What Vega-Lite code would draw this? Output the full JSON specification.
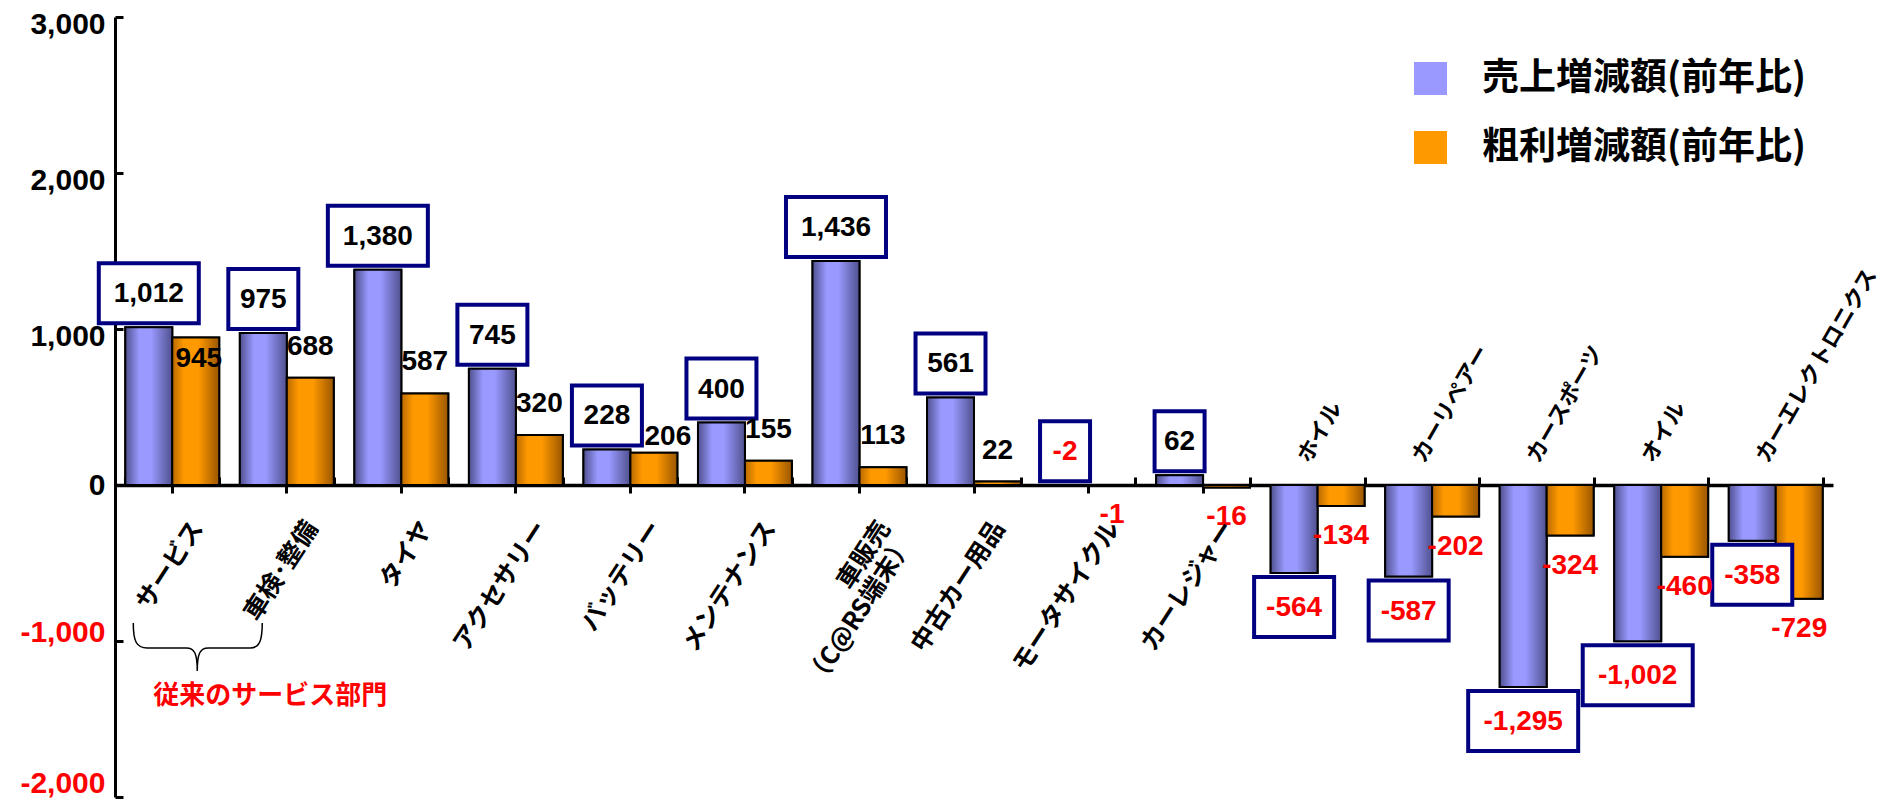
{
  "$schema": "https://vega.github.io/schema/vega-lite/v6.json",
  "width": 1718,
  "height": 780,
  "autosize": {"type": "none"},
  "padding": {"left": 115, "top": 17, "right": 53, "bottom": 4},
  "background": "white",
  "config": {
    "view": {"stroke": null},
    "font": "Liberation Sans",
    "locale": {"number": {"decimal": ".", "thousands": ",", "grouping": [3], "currency": ["$", ""], "minus": "-"}}
  },
  "data": {
    "values": [
      {"cat": "サービス", "series": "売上増減額(前年比)", "value": 1012},
      {"cat": "サービス", "series": "粗利増減額(前年比)", "value": 945},
      {"cat": "車検･整備", "series": "売上増減額(前年比)", "value": 975},
      {"cat": "車検･整備", "series": "粗利増減額(前年比)", "value": 688},
      {"cat": "タイヤ", "series": "売上増減額(前年比)", "value": 1380},
      {"cat": "タイヤ", "series": "粗利増減額(前年比)", "value": 587},
      {"cat": "アクセサリー", "series": "売上増減額(前年比)", "value": 745},
      {"cat": "アクセサリー", "series": "粗利増減額(前年比)", "value": 320},
      {"cat": "バッテリー", "series": "売上増減額(前年比)", "value": 228},
      {"cat": "バッテリー", "series": "粗利増減額(前年比)", "value": 206},
      {"cat": "メンテナンス", "series": "売上増減額(前年比)", "value": 400},
      {"cat": "メンテナンス", "series": "粗利増減額(前年比)", "value": 155},
      {"cat": "車販売\n（C@RS端末）", "series": "売上増減額(前年比)", "value": 1436},
      {"cat": "車販売\n（C@RS端末）", "series": "粗利増減額(前年比)", "value": 113},
      {"cat": "中古カー用品", "series": "売上増減額(前年比)", "value": 561},
      {"cat": "中古カー用品", "series": "粗利増減額(前年比)", "value": 22},
      {"cat": "モータサイクル", "series": "売上増減額(前年比)", "value": -2},
      {"cat": "モータサイクル", "series": "粗利増減額(前年比)", "value": -1},
      {"cat": "カーレジャー", "series": "売上増減額(前年比)", "value": 62},
      {"cat": "カーレジャー", "series": "粗利増減額(前年比)", "value": -16},
      {"cat": "ホイル", "series": "売上増減額(前年比)", "value": -564},
      {"cat": "ホイル", "series": "粗利増減額(前年比)", "value": -134},
      {"cat": "カーリペアー", "series": "売上増減額(前年比)", "value": -587},
      {"cat": "カーリペアー", "series": "粗利増減額(前年比)", "value": -202},
      {"cat": "カースポーツ", "series": "売上増減額(前年比)", "value": -1295},
      {"cat": "カースポーツ", "series": "粗利増減額(前年比)", "value": -324},
      {"cat": "オイル", "series": "売上増減額(前年比)", "value": -1002},
      {"cat": "オイル", "series": "粗利増減額(前年比)", "value": -460},
      {"cat": "カーエレクトロニクス", "series": "売上増減額(前年比)", "value": -358},
      {"cat": "カーエレクトロニクス", "series": "粗利増減額(前年比)", "value": -729}
    ]
  },
  "layer": [
    {
      "mark": {"type": "bar", "stroke": "black", "strokeWidth": 2},
      "encoding": {
        "x": {
          "field": "cat", "type": "nominal", "sort": null,
          "scale": {
            "domain": ["サービス", "車検･整備", "タイヤ", "アクセサリー", "バッテリー", "メンテナンス", "車販売\n（C@RS端末）", "中古カー用品", "モータサイクル", "カーレジャー", "ホイル", "カーリペアー", "カースポーツ", "オイル", "カーエレクトロニクス"],
            "paddingInner": 0.18, "paddingOuter": 0.09
          },
          "axis": {
            "orient": "bottom", "offset": -312, "title": null, "labels": false, "grid": false,
            "domain": true, "domainColor": "black", "domainWidth": 3.5,
            "ticks": true, "tickColor": "black", "tickWidth": 3, "tickSize": 8, "tickBand": "center"
          }
        },
        "xOffset": {
          "field": "series", "type": "nominal",
          "scale": {"domain": ["売上増減額(前年比)", "粗利増減額(前年比)"], "paddingInner": 0, "paddingOuter": 0}
        },
        "y": {
          "field": "value", "type": "quantitative", "stack": null,
          "scale": {"domain": [-2000, 3000], "nice": false, "zero": false},
          "axis": {
            "orient": "left", "title": null, "values": [-2000, -1000, 0, 1000, 2000, 3000], "format": ",d", "grid": false,
            "domain": true, "domainColor": "black", "domainWidth": 3,
            "ticks": true, "tickColor": "black", "tickWidth": 3, "tickSize": -8, "labelPadding": 18,
            "labelFont": "Liberation Sans", "labelFontSize": 30, "labelFontWeight": "bold",
            "labelOffset": {"condition": [{"test": "datum.value < -1500", "value": -14}, {"test": "datum.value < 0", "value": -9}, {"test": "datum.value > 0", "value": 7}], "value": 0},
            "labelColor": {"condition": {"test": "datum.value < 0", "value": "#ff0000"}, "value": "black"}
          }
        },
        "color": {
          "field": "series", "type": "nominal",
          "scale": {"domain": ["売上増減額(前年比)", "粗利増減額(前年比)"], "range": ["#9999ff", "#ff9900"]},
          "legend": {
            "title": null, "orient": "none", "legendX": 1297, "legendY": 43, "padding": 0,
            "symbolType": "square", "symbolSize": 1089, "symbolStrokeColor": "black", "symbolStrokeWidth": 2,
            "labelFont": "Noto Sans CJK JP", "labelFontSize": 37, "labelFontWeight": "bold", "labelColor": "black",
            "labelOffset": 33, "rowPadding": 28, "labelLimit": 0,
            "encode": {
              "symbols": {
                "update": {
                  "fill": [
                    {"test": "datum.value === '売上増減額(前年比)'", "value": {"gradient": "linear", "x1": 0, "y1": 0, "x2": 1, "y2": 0, "stops": [
                      {"offset": 0, "color": "#50508f"}, {"offset": 0.3, "color": "#9999ff"},
                      {"offset": 0.55, "color": "#9999ff"}, {"offset": 1, "color": "#50508f"}]}},
                    {"value": {"gradient": "linear", "x1": 0, "y1": 0, "x2": 1, "y2": 0, "stops": [
                      {"offset": 0, "color": "#b86a00"}, {"offset": 0.25, "color": "#ff9900"},
                      {"offset": 0.55, "color": "#ff9900"}, {"offset": 1, "color": "#9a5600"}]}}
                  ]
                }
              }
            }
          }
        }
      }
    },
    {
      "mark": {"type": "bar", "stroke": "black", "strokeWidth": 2},
      "encoding": {
        "x": {"field": "cat", "type": "nominal", "sort": null, "axis": null},
        "xOffset": {"field": "series", "type": "nominal"},
        "y": {"field": "value", "type": "quantitative", "stack": null, "axis": null},
        "color": {
          "condition": {
            "test": "datum.series === '売上増減額(前年比)'",
            "value": {"gradient": "linear", "x1": 0, "y1": 0, "x2": 1, "y2": 0, "stops": [
              {"offset": 0, "color": "#50508f"}, {"offset": 0.3, "color": "#9999ff"},
              {"offset": 0.55, "color": "#9999ff"}, {"offset": 1, "color": "#50508f"}]}
          },
          "value": {"gradient": "linear", "x1": 0, "y1": 0, "x2": 1, "y2": 0, "stops": [
            {"offset": 0, "color": "#b86a00"}, {"offset": 0.25, "color": "#ff9900"},
            {"offset": 0.55, "color": "#ff9900"}, {"offset": 1, "color": "#9a5600"}]}
        }
      }
    },
    {
      "transform": [{"filter": "datum.series === '売上増減額(前年比)'"}],
      "mark": {"type": "point", "filled": true, "fill": "white", "stroke": "#000080", "strokeWidth": 4, "opacity": 1, "size": 4},
      "encoding": {
        "x": {"field": "cat", "type": "nominal", "sort": null, "axis": null},
        "xOffset": {"field": "series", "type": "nominal"},
        "y": {"field": "value", "type": "quantitative", "axis": null},
        "shape": {
          "condition": [
            {"test": "length(format(datum.value, ',')) == 2", "value": "M-25,-64H25V-4H-25Z"},
            {"test": "length(format(datum.value, ',')) == 5", "value": "M-50,-64H50V-4H-50Z"},
            {"test": "length(format(datum.value, ',')) == 4", "value": "M-40,4H40V64H-40Z"},
            {"test": "length(format(datum.value, ',')) == 6", "value": "M-55,4H55V64H-55Z"}
          ],
          "value": "M-35,-64H35V-4H-35Z"
        }
      }
    },
    {
      "transform": [{"filter": "datum.series === '売上増減額(前年比)' && datum.value > -100"}],
      "mark": {"type": "text", "font": "Liberation Sans", "fontSize": 28, "fontWeight": "bold", "baseline": "middle", "align": "center", "dy": -33},
      "encoding": {
        "x": {"field": "cat", "type": "nominal", "sort": null, "axis": null},
        "xOffset": {"field": "series", "type": "nominal"},
        "y": {"field": "value", "type": "quantitative", "axis": null},
        "text": {"field": "value", "type": "quantitative", "format": ","},
        "color": {"condition": {"test": "datum.value < 0", "value": "#ff0000"}, "value": "black"}
      }
    },
    {
      "transform": [{"filter": "datum.series === '売上増減額(前年比)' && datum.value <= -100"}],
      "mark": {"type": "text", "font": "Liberation Sans", "fontSize": 28, "fontWeight": "bold", "baseline": "middle", "align": "center", "dy": 35, "color": "#ff0000"},
      "encoding": {
        "x": {"field": "cat", "type": "nominal", "sort": null, "axis": null},
        "xOffset": {"field": "series", "type": "nominal"},
        "y": {"field": "value", "type": "quantitative", "axis": null},
        "text": {"field": "value", "type": "quantitative", "format": ","}
      }
    },
    {
      "transform": [{"filter": "datum.series === '粗利増減額(前年比)' && datum.value >= 900"}],
      "mark": {"type": "text", "font": "Liberation Sans", "fontSize": 28, "fontWeight": "bold", "baseline": "middle", "align": "center", "dx": 3, "dy": 21, "color": "black"},
      "encoding": {
        "x": {"field": "cat", "type": "nominal", "sort": null, "axis": null},
        "xOffset": {"field": "series", "type": "nominal"},
        "y": {"field": "value", "type": "quantitative", "axis": null},
        "text": {"field": "value", "type": "quantitative", "format": ","}
      }
    },
    {
      "transform": [{"filter": "datum.series === '粗利増減額(前年比)' && datum.value >= 200 && datum.value < 250"}],
      "mark": {"type": "text", "font": "Liberation Sans", "fontSize": 28, "fontWeight": "bold", "baseline": "middle", "align": "center", "dx": 14, "dy": -16, "color": "black"},
      "encoding": {
        "x": {"field": "cat", "type": "nominal", "sort": null, "axis": null},
        "xOffset": {"field": "series", "type": "nominal"},
        "y": {"field": "value", "type": "quantitative", "axis": null},
        "text": {"field": "value", "type": "quantitative", "format": ","}
      }
    },
    {
      "transform": [{"filter": "datum.series === '粗利増減額(前年比)' && ((datum.value >= 0 && datum.value < 200) || (datum.value >= 250 && datum.value < 900))"}],
      "mark": {"type": "text", "font": "Liberation Sans", "fontSize": 28, "fontWeight": "bold", "baseline": "middle", "align": "center", "dy": -31, "color": "black"},
      "encoding": {
        "x": {"field": "cat", "type": "nominal", "sort": null, "axis": null},
        "xOffset": {"field": "series", "type": "nominal"},
        "y": {"field": "value", "type": "quantitative", "axis": null},
        "text": {"field": "value", "type": "quantitative", "format": ","}
      }
    },
    {
      "transform": [{"filter": "datum.series === '粗利増減額(前年比)' && datum.value < 0"}],
      "mark": {"type": "text", "font": "Liberation Sans", "fontSize": 28, "fontWeight": "bold", "baseline": "middle", "align": "center", "dy": 30, "color": "#ff0000"},
      "encoding": {
        "x": {"field": "cat", "type": "nominal", "sort": null, "axis": null},
        "xOffset": {"field": "series", "type": "nominal"},
        "y": {"field": "value", "type": "quantitative", "axis": null},
        "text": {"field": "value", "type": "quantitative", "format": ","}
      }
    },
    {
      "transform": [{"filter": "datum.series === '売上増減額(前年比)' && datum.value > -100"}],
      "mark": {"type": "text", "font": "Noto Sans CJK JP", "fontSize": 25, "fontWeight": "bold", "color": "black", "align": "right", "baseline": "middle", "angle": 303, "radius": 46, "theta": 2.566, "lineBreak": "\n", "lineHeight": 27},
      "encoding": {
        "x": {
          "field": "cat", "type": "nominal", "sort": null,
          "axis": {
            "orient": "top", "offset": -468, "title": null, "labels": false, "grid": false, "domain": false,
            "ticks": true, "tickBand": "extent", "tickColor": "black", "tickWidth": 3, "tickSize": 8
          }
        },
        "y": {"datum": 0, "type": "quantitative", "axis": null},
        "text": {"field": "cat", "type": "nominal"}
      }
    },
    {
      "transform": [{"filter": "datum.series === '売上増減額(前年比)' && datum.value <= -100"}],
      "mark": {"type": "text", "font": "Noto Sans CJK JP", "fontSize": 22, "fontWeight": "bold", "color": "black", "align": "left", "baseline": "middle", "angle": 300, "radius": 28, "theta": -0.528},
      "encoding": {
        "x": {"field": "cat", "type": "nominal", "sort": null, "axis": null},
        "y": {"datum": 0, "type": "quantitative", "axis": null},
        "text": {"field": "cat", "type": "nominal"}
      }
    },
    {
      "data": {"values": [{"note": "従来のサービス部門"}]},
      "mark": {"type": "point", "filled": false, "color": "black", "stroke": "black", "strokeWidth": 1.5, "size": 4, "opacity": 1,
        "shape": "M-39,-18C-39,0 -36,7 -25,7L14,7C22,7 25,12 25,30C25,12 28,7 36,7L78,7C87,7 90,0 90,-18"},
      "encoding": {
        "x": {"datum": "サービス", "type": "nominal", "axis": null},
        "y": {"datum": -1000, "type": "quantitative", "axis": null}
      }
    },
    {
      "data": {"values": [{"note": "従来のサービス部門"}]},
      "mark": {"type": "text", "font": "Noto Sans CJK JP", "fontSize": 26, "fontWeight": "bold", "color": "#ff0000", "align": "center", "baseline": "middle", "dx": 98, "dy": 55},
      "encoding": {
        "x": {"datum": "サービス", "type": "nominal", "axis": null},
        "y": {"datum": -1000, "type": "quantitative", "axis": null},
        "text": {"field": "note", "type": "nominal"}
      }
    }
  ],
  "resolve": {"axis": {"x": "independent", "y": "independent"}}
}
